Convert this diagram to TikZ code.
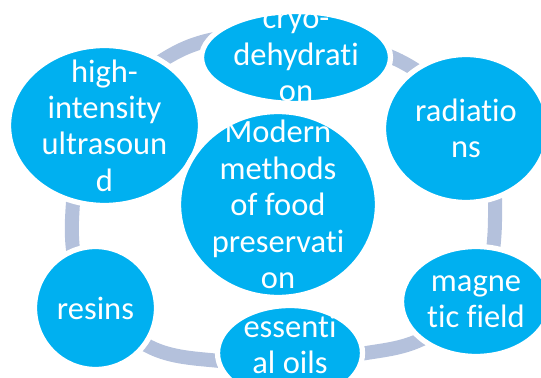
\documentclass[tikz,border=0pt]{standalone}
\usepackage{fontspec}
\setmainfont{Carlito}[Ligatures=NoCommon]
\usetikzlibrary{shapes.geometric}
\definecolor{cyblue}  {HTML}{00B0F0}
\definecolor{ringgray}{HTML}{B4C1DC}

\begin{document}
\begin{tikzpicture}[
  x=0.02cm, y=-0.02cm,
  bub/.style={ellipse, fill=cyblue, draw=white, line width=3pt, inner sep=0pt},
  txt/.style={text=white, align=center, inner sep=0pt,
              font=\fontsize{18.5}{20.7}\selectfont},
  ring/.style={draw=ringgray, line width=8pt},
]
\useasboundingbox (0,0) rectangle (541,378);
\draw[ring] plot[smooth cycle, tension=0.6] coordinates {
  (72,220) (95,125) (183,49) (290,36) (402,62) (480,135) (495,220)
  (478,300) (420,340) (360,354) (290,362) (220,361) (150,347) (88,295)};

\node[bub, minimum width=3.78cm, minimum height=1.84cm] (cryo)  at (296,57.5)  {};
\node[bub, minimum width=3.84cm, minimum height=3.20cm] (hifu)  at (104.5,125.5) {};
\node[bub, minimum width=3.30cm, minimum height=2.96cm] (rad)   at (466,128.5) {};
\node[bub, minimum width=3.98cm, minimum height=3.72cm] (core)  at (278,204.5) {};
\node[bub, minimum width=2.98cm, minimum height=2.20cm] (magn)  at (476,301.5) {};
\node[bub, minimum width=2.44cm, minimum height=2.46cm] (resin) at (95.5,308)  {};
\node[bub, minimum width=2.90cm, minimum height=1.90cm] (oils)  at (290,353)   {};

\node[txt] (cryo-t)  at (cryo)  {cryo-\\dehydrati\\on};
\node[txt] (hifu-t)  at (hifu)  {high-\\intensity\\ultrasoun\\d};
\node[txt] (rad-t)   at (rad)   {radiatio\\ns};
\node[txt] (core-t)  at (core)  {Modern\\methods\\of food\\preservati\\on};
\node[txt] (magn-t)  at (magn)  {magne\\tic field};
\node[txt] (resin-t) at (resin) {resins};
\node[txt, yshift=5pt] (oils-t) at (oils) {essenti\\al oils};
\end{tikzpicture}
\end{document}
